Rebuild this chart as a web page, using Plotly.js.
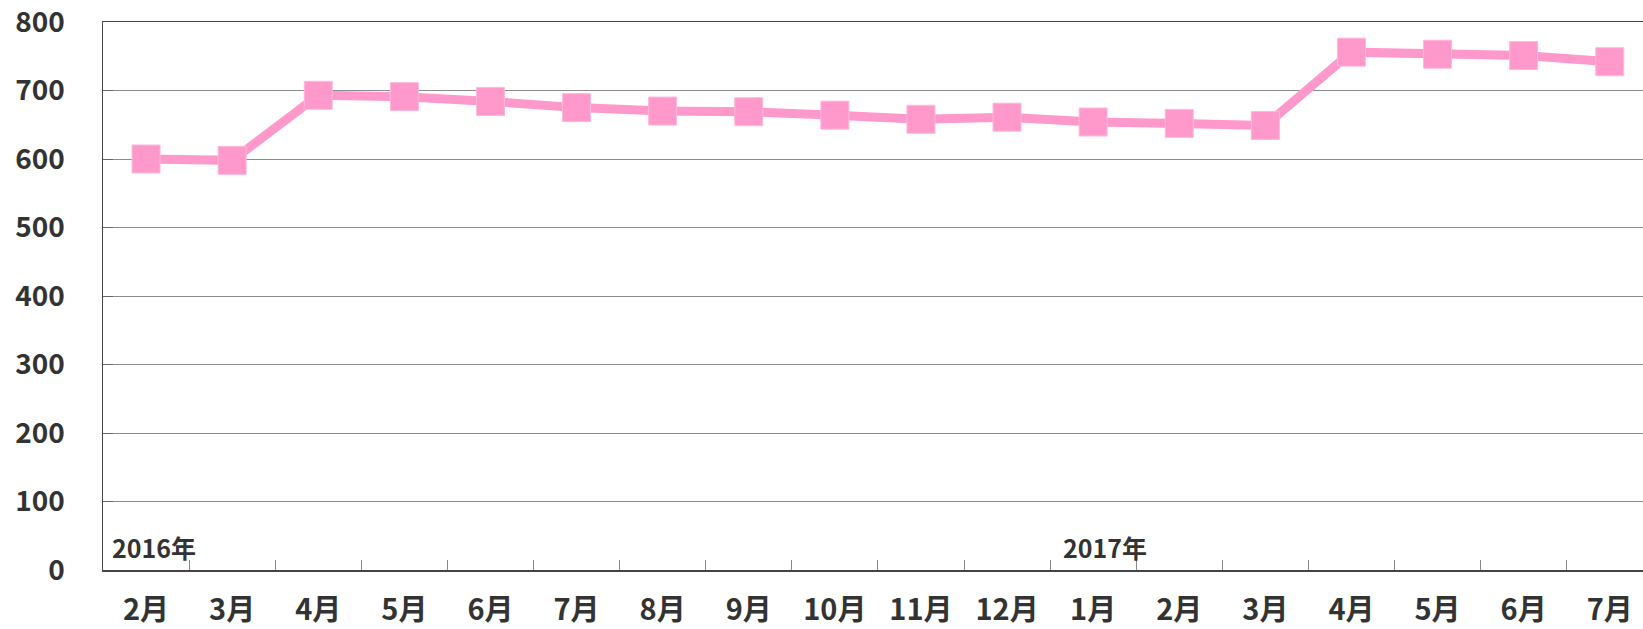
<!DOCTYPE html>
<html>
<head>
<meta charset="utf-8">
<script src="https://cdn.plot.ly/plotly-3.0.1.min.js"></script>
<style>html,body{margin:0;padding:0;background:#fff;}#chart{width:1643px;height:629px;}</style>
</head>
<body>
<div id="chart"></div>
<script>
const categories = ["2月","3月","4月","5月","6月","7月","8月","9月","10月","11月","12月","1月","2月","3月","4月","5月","6月","7月"];
const values = [600, 598, 693, 691, 684, 675, 670, 669, 664, 658, 661, 654, 652, 649, 756, 753, 751, 742];
const yearLabels = ["2016年", "2017年"];
const yearStartIndex = [0, 11];
const yTicks = [0, 100, 200, 300, 400, 500, 600, 700, 800];

const idx = categories.map((c, i) => i);
const FONT = '"Noto Sans CJK JP", "Noto Sans", sans-serif';

const trace = {
  x: idx,
  y: values,
  type: 'scatter',
  mode: 'lines+markers',
  line: {color: '#FF99CC', width: 9},
  marker: {symbol: 'square', size: 28, color: '#FF99CC', line: {color: '#FFB8DA', width: 1}},
  hoverinfo: 'skip',
  cliponaxis: false
};

const annotations = yearLabels.map((t, k) => ({
  text: t,
  x: yearStartIndex[k] - 0.5,
  y: 0,
  xref: 'x', yref: 'y',
  xanchor: 'left', yanchor: 'bottom',
  xshift: k === 0 ? 7 : 11, yshift: 3,
  showarrow: false,
  font: {family: FONT, size: 25, color: '#333333', weight: 700}
}));

const layout = {
  width: 1643, height: 629,
  margin: {l: 103, r: 0, t: 22, b: 59},
  paper_bgcolor: '#ffffff',
  plot_bgcolor: '#ffffff',
  showlegend: false,
  xaxis: {
    type: 'linear',
    range: [-0.5, -0.5 + 1540 / 86.1],
    tickmode: 'array',
    tickvals: idx,
    ticktext: categories,
    ticks: '',
    showgrid: false,
    zeroline: false,
    showline: true,
    mirror: true,
    linecolor: '#444444',
    linewidth: 1.5,
    ticklabeloverflow: 'allow',
    tickfont: {family: FONT, size: 29, color: '#333333', weight: 700},
    ticklabelstandoff: 14
  },
  xaxis2: {
    overlaying: 'x',
    matching: 'x',
    range: [-0.5, -0.5 + 1540 / 86.1],
    tickmode: 'array',
    tickvals: idx.map(i => i + 0.5),
    ticks: 'inside',
    ticklen: 10,
    tickcolor: '#888888',
    tickwidth: 1,
    showticklabels: false,
    showgrid: false,
    zeroline: false,
    showline: false
  },
  yaxis: {
    range: [0, 800],
    tickmode: 'array',
    tickvals: yTicks,
    ticks: 'inside',
    ticklen: 10,
    tickcolor: '#666666',
    showgrid: true,
    gridcolor: '#8c8c8c',
    gridwidth: 1,
    zeroline: false,
    showline: true,
    linecolor: '#444444',
    linewidth: 1.5,
    ticklabeloverflow: 'allow',
    tickfont: {family: FONT, size: 28, color: '#333333', weight: 700},
    ticklabelstandoff: 31
  },
  annotations: annotations
};

const dummy = {x: [0], y: [0], xaxis: 'x2', type: 'scatter', mode: 'markers', marker: {opacity: 0}, hoverinfo: 'skip'};

Plotly.newPlot('chart', [dummy, trace], layout, {displayModeBar: false, staticPlot: true});
</script>
</body>
</html>
